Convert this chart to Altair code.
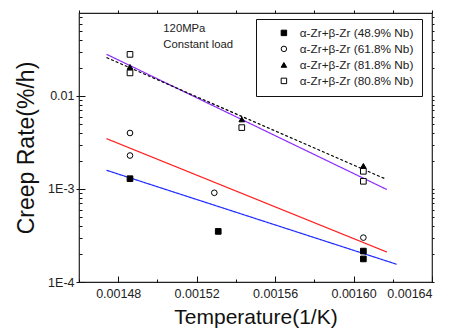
import altair as alt
import pandas as pd

FONT = "Liberation Sans"

# ---- data ----
series_names = [
    "α-Zr+β-Zr (48.9% Nb)",
    "α-Zr+β-Zr (61.8% Nb)",
    "α-Zr+β-Zr (81.8% Nb)",
    "α-Zr+β-Zr (80.8% Nb)",
]
s1_x = [0.001486, 0.001531, 0.001605, 0.001605]
s1_y = [0.00129, 0.00035, 0.000215, 0.000177]
s2_x = [0.001486, 0.001486, 0.001529, 0.001605]
s2_y = [0.0040, 0.00229, 0.00091, 0.00030]
s3_x = [0.001486, 0.001543, 0.001605]
s3_y = [0.0205, 0.0056, 0.00177]
s4_x = [0.001486, 0.001486, 0.001543, 0.001605, 0.001605]
s4_y = [0.028, 0.0177, 0.00457, 0.00155, 0.00121]

fit_names = ["fit 48.9", "fit 61.8", "fit 81.8", "fit 80.8"]
fit_colors = ["#1f2bff", "#ff1f1f", "#8f2bff", "#000000"]
fit1_x = [0.001474, 0.001622]
fit1_y = [0.00159, 0.000155]
fit2_x = [0.001474, 0.001617]
fit2_y = [0.00348, 0.00021]
fit3_x = [0.001474, 0.001617]
fit3_y = [0.0281, 0.000986]
fit4_x = [0.001474, 0.001616]
fit4_y = [0.0259, 0.00129]

x_major = [0.00148, 0.00152, 0.00156, 0.00160, 0.00164]
x_minor = [0.00146, 0.00150, 0.00154, 0.00158, 0.00162]
y_major = [0.0001, 0.001, 0.01]
y_minor = [0.0002, 0.0003, 0.0004, 0.0005, 0.0006, 0.0007, 0.0008, 0.0009,
           0.002, 0.003, 0.004, 0.005, 0.006, 0.007, 0.008, 0.009,
           0.02, 0.03, 0.04, 0.05, 0.06, 0.07]

ann_text = ["120MPa", "Constant load"]
ann_x = [0.001503, 0.001503]
ann_y = [0.0525, 0.0357]

# ---- tables ----
rows = []
for name, xs, ys in zip(series_names, [s1_x, s2_x, s3_x, s4_x], [s1_y, s2_y, s3_y, s4_y]):
    for a, b in zip(xs, ys):
        rows.append({"series": name, "x": a, "y": b})
pts = pd.DataFrame(rows)

frows = []
for name, xs, ys in zip(fit_names, [fit1_x, fit2_x, fit3_x, fit4_x], [fit1_y, fit2_y, fit3_y, fit4_y]):
    for i, (a, b) in enumerate(zip(xs, ys)):
        frows.append({"fit": name, "x": a, "y": b, "o": i})
fits = pd.DataFrame(frows)

ann = pd.DataFrame({"t": ann_text, "x": ann_x, "y": ann_y})

xscale = alt.Scale(domain=[0.00146, 0.00164], nice=False, zero=False)
yscale = alt.Scale(type="log", domain=[0.0001, 0.078], nice=False)

W, H = 353, 269

lines = alt.Chart(fits).mark_line(strokeWidth=1.2).encode(
    x=alt.X("x:Q", scale=xscale, axis=None),
    y=alt.Y("y:Q", scale=yscale, axis=None),
    order="o:Q",
    color=alt.Color("fit:N", scale=alt.Scale(domain=fit_names, range=fit_colors), legend=None),
    strokeDash=alt.StrokeDash("fit:N", scale=alt.Scale(domain=fit_names, range=[[1, 0], [1, 0], [1, 0], [3, 2]]), legend=None),
)

leg = dict(
    title=None, orient="none", legendX=177, legendY=6,
    strokeColor="#111", fillColor="white", padding=8,
    symbolOffset=14, labelOffset=10, rowPadding=3,
    labelFontSize=11.8, labelFont=FONT, labelColor="#222",
    symbolSize=30, symbolStrokeWidth=1,
)

points = alt.Chart(pts).mark_point(filled=False, size=32, strokeWidth=1, opacity=1).encode(
    x=alt.X("x:Q", scale=xscale, axis=alt.Axis(
        orient="bottom", values=x_major, format=".5f", ticks=False, domain=False,
        labelFontSize=12.5, labelPadding=5, labelColor="#222",
        title="Temperature(1/K)", titleFontSize=21, titlePadding=7,
        titleFontWeight="normal", titleColor="#111")),
    y=alt.Y("y:Q", scale=yscale, axis=alt.Axis(
        orient="left", values=y_major, tickSize=3, domain=False,
        labelExpr="datum.value > 0.005 ? '0.01' : (datum.value > 0.0005 ? '1E-3' : '1E-4')",
        labelFontSize=12.5, labelPadding=2, labelColor="#222",
        title="Creep Rate(%/h)", titleFontSize=23, titlePadding=9,
        titleFontWeight="normal", titleColor="#111")),
    fill=alt.Fill("series:N", scale=alt.Scale(domain=series_names, range=["black", "white", "black", "white"]),
                  legend=alt.Legend(**leg)),
    shape=alt.Shape("series:N", scale=alt.Scale(domain=series_names, range=["square", "circle", "triangle-up", "square"]),
                    legend=alt.Legend(**leg)),
    stroke=alt.Stroke("series:N", scale=alt.Scale(domain=series_names, range=["black", "black", "black", "black"]),
                      legend=alt.Legend(**leg)),
)

text = alt.Chart(ann).mark_text(align="left", baseline="middle", fontSize=11.3, font=FONT, color="#222").encode(
    x=alt.X("x:Q", scale=xscale, axis=None),
    y=alt.Y("y:Q", scale=yscale, axis=None),
    text="t:N",
)


def tick_layer(xo, xoff, xv, xs, yo, yoff, yv, ys):
    return alt.Chart(pts).mark_point(opacity=0).encode(
        x=alt.X("x:Q", scale=xscale, axis=alt.Axis(
            orient=xo, offset=xoff, values=xv, tickSize=xs, labels=False,
            domain=False, title=None, tickColor="#111")),
        y=alt.Y("y:Q", scale=yscale, axis=alt.Axis(
            orient=yo, offset=yoff, values=yv, tickSize=ys, labels=False,
            domain=False, title=None, tickColor="#111")),
    )


inner_major = tick_layer("top", -H, x_major, 6, "right", -W, y_major, 6)
inner_minor = tick_layer("top", -H, x_minor, 3, "right", -W, y_minor, 3)
outer = tick_layer("top", 0, x_major + x_minor, 3, "right", 0, y_major + y_minor, 2)

chart = alt.layer(lines, points, text, inner_major, inner_minor, outer).resolve_axis(
    x="independent", y="independent"
).properties(
    width=W, height=H,
    autosize=alt.AutoSizeParams(type="none"),
    padding={"left": 71, "top": 5, "right": 16, "bottom": 50},
).configure_view(
    stroke="#222", strokeWidth=1.2
).configure_axis(
    grid=False, labelFont=FONT, titleFont=FONT, tickWidth=1, tickColor="#111"
)

chart.save("out.html", embed_options={"renderer": "svg", "actions": False})
